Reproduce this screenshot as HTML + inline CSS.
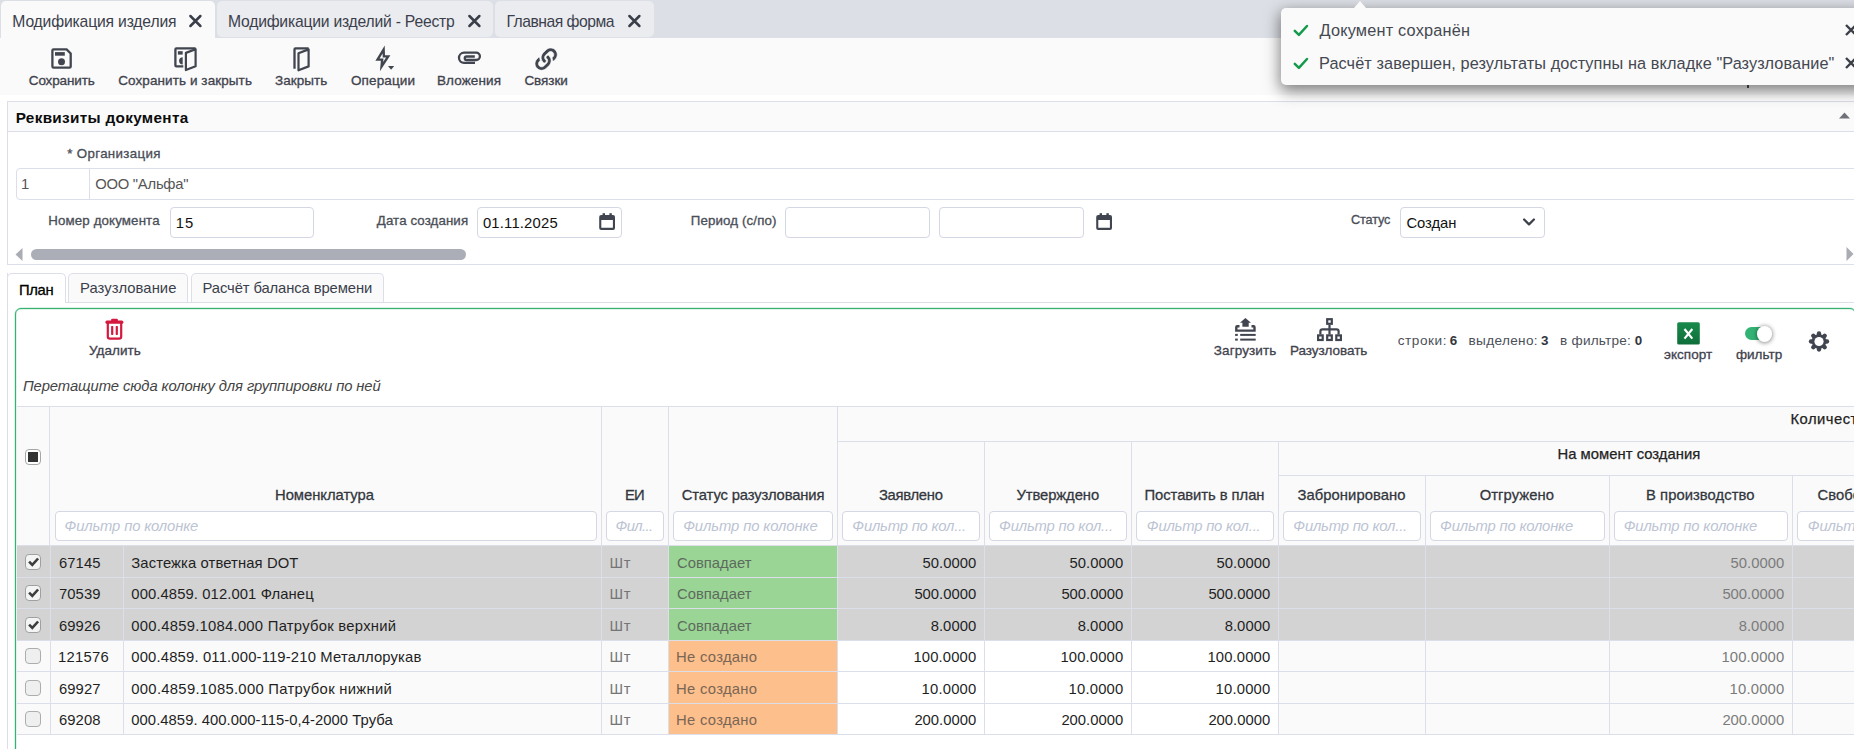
<!DOCTYPE html>
<html lang="ru"><head><meta charset="utf-8"><title>Модификация изделия</title>
<style>
html,body{margin:0;padding:0;width:1854px;height:749px;overflow:hidden;}
body{position:relative;background:#fff;font-family:"Liberation Sans", sans-serif;font-size:14.8px;}
.root{position:absolute;left:0;top:0;width:1854px;height:749px;overflow:hidden;background:#fff;}
.t{position:absolute;white-space:nowrap;line-height:1;}
svg{position:absolute;overflow:visible;}
</style></head><body><div class="root">
<div style="position:absolute;left:0px;top:0px;width:1854px;height:38px;background:#dcdfe5;"></div>
<div style="position:absolute;left:1px;top:1px;width:214px;height:37px;background:#fafafa;border-radius:5px 5px 0 0;"></div>
<div style="position:absolute;left:217px;top:1px;width:276px;height:36px;background:#ebecf0;border-radius:5px;"></div>
<div style="position:absolute;left:495px;top:1px;width:159px;height:36px;background:#ebecf0;border-radius:5px;"></div>
<div style="position:absolute;left:0px;top:38px;width:1854px;height:57px;background:#fafafa;"></div>
<div style="position:absolute;left:7px;top:101px;width:1860px;height:162px;border:1px solid #dcdeea;background:#fff;"></div>
<div style="position:absolute;left:8px;top:102px;width:1846px;height:29px;background:#fafafa;border-bottom:1px solid #dcdeea;"></div>
<svg style="position:absolute;left:1839px;top:112px" width="11" height="7"><path d="M0 6.5 L5.5 0.5 L11 6.5Z" fill="#6f7278"/></svg>
<div style="position:absolute;left:16px;top:168px;width:1850px;height:30px;border:1px solid #dcdeea;border-radius:4px 0 0 4px;background:#fff;"></div>
<div style="position:absolute;left:89px;top:169px;width:1px;height:30px;background:#dcdeea;"></div>
<div style="position:absolute;left:170px;top:207px;width:144px;height:30px;border:1px solid #d4d7e4;border-radius:4px;background:#fff;box-sizing:border-box;height:31px;"></div>
<div style="position:absolute;left:477px;top:207px;width:145px;height:30px;border:1px solid #d4d7e4;border-radius:4px;background:#fff;box-sizing:border-box;height:31px;"></div>
<div style="position:absolute;left:785px;top:207px;width:145px;height:30px;border:1px solid #d4d7e4;border-radius:4px;background:#fff;box-sizing:border-box;height:31px;"></div>
<div style="position:absolute;left:939px;top:207px;width:145px;height:30px;border:1px solid #d4d7e4;border-radius:4px;background:#fff;box-sizing:border-box;height:31px;"></div>
<div style="position:absolute;left:1400px;top:207px;width:145px;height:30px;border:1px solid #d4d7e4;border-radius:4px;background:#fff;box-sizing:border-box;height:31px;"></div>
<svg style="position:absolute;left:14.5px;top:247.5px" width="8" height="13"><path d="M7.5 0 L0.5 6.5 L7.5 13Z" fill="#a9acb3"/></svg>
<div style="position:absolute;left:31px;top:249px;width:435px;height:11px;background:#abaeb6;border-radius:6px;"></div>
<svg style="position:absolute;left:1846px;top:247px" width="8" height="14"><path d="M0.5 0 L7.5 7 L0.5 14Z" fill="#a9acb3"/></svg>
<div style="position:absolute;left:7px;top:302px;width:1860px;height:1px;background:#dcdeea;"></div>
<div style="position:absolute;left:7px;top:273px;width:1px;height:480px;background:#dcdeea;"></div>
<div style="position:absolute;left:7px;top:273px;width:59px;height:30px;border:1px solid #dcdeea;border-bottom:none;border-radius:5px 5px 0 0;background:#fff;box-sizing:border-box;"></div>
<div style="position:absolute;left:68px;top:273px;width:120px;height:29px;border:1px solid #dcdeea;border-bottom:none;border-radius:5px 5px 0 0;background:#fafafa;box-sizing:border-box;"></div>
<div style="position:absolute;left:191px;top:273px;width:193px;height:29px;border:1px solid #dcdeea;border-bottom:none;border-radius:5px 5px 0 0;background:#fafafa;box-sizing:border-box;"></div>
<div style="position:absolute;left:15px;top:308px;width:1841px;height:460px;border:1px solid #35b272;border-radius:6px;background:#fff;box-sizing:border-box;box-shadow:0 0 0 0.5px rgba(53,178,114,.35), inset 0 0 0 0.5px rgba(53,178,114,.3);"></div>
<div style="position:absolute;left:17px;top:406px;width:1840px;height:140px;background:#fafafa;border-top:1px solid #dcdeea;box-sizing:border-box;"></div>
<div style="position:absolute;left:49px;top:406px;width:1px;height:140px;background:#dcdeea;"></div>
<div style="position:absolute;left:601px;top:406px;width:1px;height:140px;background:#dcdeea;"></div>
<div style="position:absolute;left:668px;top:406px;width:1px;height:140px;background:#dcdeea;"></div>
<div style="position:absolute;left:837px;top:406px;width:1px;height:140px;background:#dcdeea;"></div>
<div style="position:absolute;left:984px;top:441px;width:1px;height:105px;background:#dcdeea;"></div>
<div style="position:absolute;left:1131px;top:441px;width:1px;height:105px;background:#dcdeea;"></div>
<div style="position:absolute;left:1278px;top:441px;width:1px;height:105px;background:#dcdeea;"></div>
<div style="position:absolute;left:1425px;top:475px;width:1px;height:71px;background:#dcdeea;"></div>
<div style="position:absolute;left:1609px;top:475px;width:1px;height:71px;background:#dcdeea;"></div>
<div style="position:absolute;left:1792px;top:475px;width:1px;height:71px;background:#dcdeea;"></div>
<div style="position:absolute;left:837px;top:441px;width:1100px;height:1px;background:#dcdeea;"></div>
<div style="position:absolute;left:1278px;top:475px;width:700px;height:1px;background:#dcdeea;"></div>
<div style="position:absolute;left:55px;top:511px;width:542px;height:30px;border:1px solid #d4d7e4;border-radius:4px;background:#fff;box-sizing:border-box;"></div>
<div style="position:absolute;left:606px;top:511px;width:58px;height:30px;border:1px solid #d4d7e4;border-radius:4px;background:#fff;box-sizing:border-box;"></div>
<div style="position:absolute;left:673px;top:511px;width:160px;height:30px;border:1px solid #d4d7e4;border-radius:4px;background:#fff;box-sizing:border-box;"></div>
<div style="position:absolute;left:842px;top:511px;width:138px;height:30px;border:1px solid #d4d7e4;border-radius:4px;background:#fff;box-sizing:border-box;"></div>
<div style="position:absolute;left:989px;top:511px;width:138px;height:30px;border:1px solid #d4d7e4;border-radius:4px;background:#fff;box-sizing:border-box;"></div>
<div style="position:absolute;left:1136px;top:511px;width:138px;height:30px;border:1px solid #d4d7e4;border-radius:4px;background:#fff;box-sizing:border-box;"></div>
<div style="position:absolute;left:1283px;top:511px;width:138px;height:30px;border:1px solid #d4d7e4;border-radius:4px;background:#fff;box-sizing:border-box;"></div>
<div style="position:absolute;left:1430px;top:511px;width:175px;height:30px;border:1px solid #d4d7e4;border-radius:4px;background:#fff;box-sizing:border-box;"></div>
<div style="position:absolute;left:1614px;top:511px;width:174px;height:30px;border:1px solid #d4d7e4;border-radius:4px;background:#fff;box-sizing:border-box;"></div>
<div style="position:absolute;left:1797px;top:511px;width:159px;height:30px;border:1px solid #d4d7e4;border-radius:4px;background:#fff;box-sizing:border-box;"></div>
<div style="position:absolute;left:17px;top:546px;width:1840px;height:32px;background:#d3d3d3;"></div>
<div style="position:absolute;left:669px;top:546px;width:168px;height:32px;background:#9ad596;"></div>
<div style="position:absolute;left:17px;top:578px;width:1840px;height:31px;background:#d3d3d3;"></div>
<div style="position:absolute;left:669px;top:578px;width:168px;height:31px;background:#9ad596;"></div>
<div style="position:absolute;left:17px;top:609px;width:1840px;height:32px;background:#d3d3d3;"></div>
<div style="position:absolute;left:669px;top:609px;width:168px;height:32px;background:#9ad596;"></div>
<div style="position:absolute;left:17px;top:641px;width:1840px;height:31px;background:#fafafa;"></div>
<div style="position:absolute;left:837px;top:641px;width:441px;height:31px;background:#fff;"></div>
<div style="position:absolute;left:669px;top:641px;width:168px;height:31px;background:#fdbf8b;"></div>
<div style="position:absolute;left:17px;top:672px;width:1840px;height:32px;background:#fafafa;"></div>
<div style="position:absolute;left:837px;top:672px;width:441px;height:32px;background:#fff;"></div>
<div style="position:absolute;left:669px;top:672px;width:168px;height:32px;background:#fdbf8b;"></div>
<div style="position:absolute;left:17px;top:704px;width:1840px;height:31px;background:#fafafa;"></div>
<div style="position:absolute;left:837px;top:704px;width:441px;height:31px;background:#fff;"></div>
<div style="position:absolute;left:669px;top:704px;width:168px;height:31px;background:#fdbf8b;"></div>
<div style="position:absolute;left:17px;top:577px;width:1840px;height:1px;background:#dcdeea;"></div>
<div style="position:absolute;left:17px;top:608px;width:1840px;height:1px;background:#dcdeea;"></div>
<div style="position:absolute;left:17px;top:640px;width:1840px;height:1px;background:#dcdeea;"></div>
<div style="position:absolute;left:17px;top:671px;width:1840px;height:1px;background:#dcdeea;"></div>
<div style="position:absolute;left:17px;top:703px;width:1840px;height:1px;background:#dcdeea;"></div>
<div style="position:absolute;left:17px;top:734px;width:1840px;height:1px;background:#dcdeea;"></div>
<div style="position:absolute;left:17px;top:545px;width:1840px;height:1px;background:#dcdeea;"></div>
<div style="position:absolute;left:50px;top:546px;width:1px;height:188px;background:#dcdeea;"></div>
<div style="position:absolute;left:123px;top:546px;width:1px;height:188px;background:#dcdeea;"></div>
<div style="position:absolute;left:601px;top:546px;width:1px;height:188px;background:#dcdeea;"></div>
<div style="position:absolute;left:668px;top:546px;width:1px;height:188px;background:#dcdeea;"></div>
<div style="position:absolute;left:837px;top:546px;width:1px;height:188px;background:#dcdeea;"></div>
<div style="position:absolute;left:984px;top:546px;width:1px;height:188px;background:#dcdeea;"></div>
<div style="position:absolute;left:1131px;top:546px;width:1px;height:188px;background:#dcdeea;"></div>
<div style="position:absolute;left:1278px;top:546px;width:1px;height:188px;background:#dcdeea;"></div>
<div style="position:absolute;left:1425px;top:546px;width:1px;height:188px;background:#dcdeea;"></div>
<div style="position:absolute;left:1609px;top:546px;width:1px;height:188px;background:#dcdeea;"></div>
<div style="position:absolute;left:1792px;top:546px;width:1px;height:188px;background:#dcdeea;"></div>
<svg width="16" height="16" style="position:absolute;left:25px;top:449px"><rect x="0.5" y="0.5" width="15" height="15" rx="3.5" fill="#fff" stroke="#a6a6a6"/><rect x="3" y="3" width="10" height="10" fill="#333"/></svg>
<svg width="16" height="16" style="position:absolute;left:25px;top:554px"><rect x="0.5" y="0.5" width="15" height="15" rx="3.5" fill="#f4f4f4" stroke="#a0a0a0"/><path d="M4.1 7.7 L7.3 10.9 L13.1 4.5" stroke="#3d3d3d" stroke-width="2.6" fill="none"/></svg>
<svg width="16" height="16" style="position:absolute;left:25px;top:585px"><rect x="0.5" y="0.5" width="15" height="15" rx="3.5" fill="#f4f4f4" stroke="#a0a0a0"/><path d="M4.1 7.7 L7.3 10.9 L13.1 4.5" stroke="#3d3d3d" stroke-width="2.6" fill="none"/></svg>
<svg width="16" height="16" style="position:absolute;left:25px;top:617px"><rect x="0.5" y="0.5" width="15" height="15" rx="3.5" fill="#f4f4f4" stroke="#a0a0a0"/><path d="M4.1 7.7 L7.3 10.9 L13.1 4.5" stroke="#3d3d3d" stroke-width="2.6" fill="none"/></svg>
<svg width="16" height="16" style="position:absolute;left:25px;top:648px"><rect x="0.5" y="0.5" width="15" height="15" rx="3.5" fill="#efefef" stroke="#adadad"/></svg>
<svg width="16" height="16" style="position:absolute;left:25px;top:680px"><rect x="0.5" y="0.5" width="15" height="15" rx="3.5" fill="#efefef" stroke="#adadad"/></svg>
<svg width="16" height="16" style="position:absolute;left:25px;top:711px"><rect x="0.5" y="0.5" width="15" height="15" rx="3.5" fill="#efefef" stroke="#adadad"/></svg>
<div style="position:absolute;left:1281px;top:8px;width:600px;height:77px;background:#fafafa;border-radius:5px;box-shadow:0 5px 15px 1px rgba(0,0,0,.5);"></div>
<svg style="position:absolute;left:1354px;top:1px" width="12" height="7"><path d="M0 7 L6 0 L12 7Z" fill="#fafafa"/></svg>
<div style="position:absolute;left:1747px;top:85px;width:2px;height:3px;background:#333;"></div>
<!-- tab close X -->
<svg style="left:189px;top:14.6px" width="13" height="12"><path d="M1.4 1 L11.4 11 M11.4 1 L1.4 11" stroke="#3a3e48" stroke-width="2.5" stroke-linecap="round" fill="none"/></svg>
<svg style="left:468px;top:14.6px" width="13" height="12"><path d="M1.4 1 L11.4 11 M11.4 1 L1.4 11" stroke="#3a3e48" stroke-width="2.5" stroke-linecap="round" fill="none"/></svg>
<svg style="left:628px;top:14.6px" width="13" height="12"><path d="M1.4 1 L11.4 11 M11.4 1 L1.4 11" stroke="#3a3e48" stroke-width="2.5" stroke-linecap="round" fill="none"/></svg>
<!-- save -->
<svg style="left:51px;top:48px" width="21" height="21"><path d="M1.4 2.6 Q1.4 1.4 2.6 1.4 H15.6 L19.7 5.5 V18.4 Q19.7 19.6 18.5 19.6 H2.6 Q1.4 19.6 1.4 18.4 Z" fill="none" stroke="#41454f" stroke-width="2.3" stroke-linejoin="round"/><rect x="4" y="4.1" width="9.8" height="3.6" fill="#41454f"/><circle cx="10.5" cy="13.8" r="3.5" fill="#41454f"/></svg>
<!-- save & close -->
<svg style="left:174px;top:47px" width="24" height="24"><path d="M9.3 19.4 H2.4 Q1.4 19.4 1.4 18.4 V2.4 Q1.4 1.4 2.4 1.4 H21.6" fill="none" stroke="#41454f" stroke-width="2.3"/><rect x="3.9" y="4.2" width="4.8" height="3.4" fill="#41454f"/><path d="M8.7 10.2 A3.6 3.6 0 0 0 8.7 17.4 Z" fill="#41454f"/><path d="M11.9 5.9 L21.6 2.2 V19.2 L11.9 23 Z" fill="#fafafa" stroke="#41454f" stroke-width="2.2" stroke-linejoin="round"/></svg>
<!-- close door -->
<svg style="left:293px;top:47px" width="18" height="24"><path d="M1.5 21.8 V2.4 Q1.5 1.4 2.5 1.4 H15.6" fill="none" stroke="#41454f" stroke-width="2.3"/><path d="M5.5 6.2 L15.6 2.4 V19.4 L5.5 23.3 Z" fill="#fafafa" stroke="#41454f" stroke-width="2.2" stroke-linejoin="round"/></svg>
<!-- bolt -->
<svg style="left:374px;top:45px" width="22" height="27"><path d="M10.7 0.6 L1.4 15.8 H6.9 L5.9 26.2 L16.4 10.2 H11 Z M8.60 8.54 L5.59 13.45 L9.49 13.45 L9.15 16.97 L12.05 12.55 L8.72 12.55 Z" fill="#41454f" fill-rule="evenodd"/><path d="M14 21 H20.2 L17.1 24.7Z" fill="#41454f"/></svg>
<!-- paperclip -->
<svg style="left:440px;top:40px" width="50" height="36"><path d="M35 22.9 H24.1 A5.1 5.1 0 0 1 24.1 12.7 H36.25 A3.65 3.65 0 0 1 36.25 20 H26.5 A1.75 1.75 0 0 1 26.5 16.5 H34.8" fill="none" stroke="#41454f" stroke-width="2.3"/></svg>
<!-- link -->
<svg style="left:534.6px;top:47.9px" width="22.3" height="22.3" viewBox="0 0 512 512"><path fill="#41454f" stroke="#fafafa" stroke-width="16" d="M326.612 185.391c59.747 59.809 58.927 155.698.36 214.59-.11.12-.24.25-.36.37l-67.2 67.2c-59.27 59.27-155.699 59.262-214.96 0-59.27-59.26-59.27-155.7 0-214.96l37.106-37.106c9.84-9.84 26.786-3.3 27.294 10.606.648 17.722 3.826 35.527 9.69 52.721 1.986 5.822.567 12.262-3.783 16.612l-13.087 13.087c-28.026 28.026-28.905 73.66-1.155 101.96 28.024 28.579 74.086 28.749 102.325.51l67.2-67.19c28.191-28.191 28.073-73.757 0-101.83-3.701-3.694-7.429-6.564-10.341-8.569a16.037 16.037 0 0 1-6.947-12.606c-.396-10.567 3.348-21.456 11.698-29.806l21.054-21.055c5.521-5.521 14.182-6.199 20.584-1.731a152.482 152.482 0 0 1 20.522 17.197zM467.547 44.449c-59.261-59.262-155.69-59.27-214.96 0l-67.2 67.2c-.12.12-.25.25-.36.37-58.566 58.892-59.387 154.781.36 214.59a152.454 152.454 0 0 0 20.521 17.196c6.402 4.468 15.064 3.789 20.584-1.731l21.054-21.055c8.35-8.35 12.094-19.239 11.698-29.806a16.037 16.037 0 0 0-6.947-12.606c-2.912-2.005-6.64-4.875-10.341-8.569-28.073-28.073-28.191-73.639 0-101.83l67.2-67.19c28.239-28.239 74.3-28.069 102.325.51 27.75 28.3 26.872 73.934-1.155 101.96l-13.087 13.087c-4.35 4.35-5.769 10.79-3.783 16.612 5.864 17.194 9.042 34.999 9.69 52.721.509 13.906 17.454 20.446 27.294 10.606l37.106-37.106c59.271-59.259 59.271-155.699.001-214.959z"/></svg>
<!-- trash -->
<svg style="left:105px;top:318px" width="20" height="23"><rect x="0.4" y="2.6" width="18" height="3.1" rx="1.5" fill="#d4183f"/><rect x="6.1" y="0.8" width="6.8" height="3" rx="1.2" fill="#d4183f"/><path d="M2.8 5 V18.6 Q2.8 20.7 4.9 20.7 H14.1 Q16.2 20.7 16.2 18.6 V5" fill="none" stroke="#d4183f" stroke-width="2.2"/><rect x="6.1" y="8.1" width="2.2" height="8.8" rx="0.6" fill="#d4183f"/><rect x="10.7" y="8.1" width="2.2" height="8.8" rx="0.6" fill="#d4183f"/></svg>
<!-- upload -->
<svg style="left:1235px;top:317px" width="22" height="25"><path d="M10.4 0.9 L16 5.8 H13.7 V9.8 H7.4 V5.8 H5 Z" fill="#41454f"/><path d="M4.5 9.3 H2.2 Q1.3 9.3 1.3 10.2 V13.6 H19.5 V10.2 Q19.5 9.3 18.6 9.3 H16.5" fill="none" stroke="#41454f" stroke-width="2.4"/><rect x="0.1" y="16.9" width="2.7" height="2" fill="#41454f"/><rect x="5.2" y="16.9" width="15.5" height="2" fill="#41454f"/><rect x="0.1" y="21.6" width="2.7" height="2" fill="#41454f"/><rect x="5.2" y="21.6" width="15.5" height="2" fill="#41454f"/></svg>
<!-- tree -->
<svg style="left:1317px;top:318px" width="26" height="24"><g fill="none" stroke="#41454f" stroke-width="2.2"><rect x="10.2" y="1.2" width="4.6" height="4.6"/><rect x="1.1" y="17.4" width="4.6" height="4.6"/><rect x="10.2" y="17.4" width="4.6" height="4.6"/><rect x="19.3" y="17.4" width="4.6" height="4.6"/><path d="M12.5 6.8 V16.4 M3.4 16.4 V13.3 Q3.4 11.3 5.4 11.3 H19.6 Q21.6 11.3 21.6 13.3 V16.4"/></g></svg>
<!-- excel -->
<svg style="left:1677px;top:322px" width="23" height="23"><defs><linearGradient id="xg" x1="0" y1="0" x2="0" y2="1"><stop offset="0" stop-color="#188a4b"/><stop offset="1" stop-color="#0f6e3a"/></linearGradient></defs><rect x="0.2" y="0.2" width="22.6" height="22.4" rx="1.6" fill="url(#xg)"/><path d="M7.5 7 L15.3 16.6 M15.3 7 L7.5 16.6" stroke="#fff" stroke-width="2.2"/></svg>
<!-- toggle -->
<div style="position:absolute;left:1745px;top:327px;width:26px;height:13px;border-radius:7px;background:#33b373;"></div>
<div style="position:absolute;left:1756.6px;top:325.8px;width:15.8px;height:15.8px;border-radius:50%;background:#fff;box-shadow:0 0.5px 4px 0.5px rgba(0,0,0,.45);"></div>
<!-- gear -->
<svg style="left:1807.9px;top:330.9px" width="22" height="21" viewBox="-11 -10.5 22 21"><g fill="#41454f"><rect x="-2.2" y="-10.2" width="4.4" height="20.4" rx="2.1"/><rect x="-2.2" y="-10.2" width="4.4" height="20.4" rx="2.1" transform="rotate(45)"/><rect x="-2.2" y="-10.2" width="4.4" height="20.4" rx="2.1" transform="rotate(90)"/><rect x="-2.2" y="-10.2" width="4.4" height="20.4" rx="2.1" transform="rotate(135)"/><circle r="7.3"/></g><circle r="4.6" fill="#fff"/></svg>
<!-- calendars -->
<svg style="left:599px;top:213px" width="17" height="18"><path d="M2.2 2 H14 Q16 2 16 4 V14.9 Q16 16.9 14 16.9 H2.2 Q0.2 16.9 0.2 14.9 V4 Q0.2 2 2.2 2Z M2.3 7 V14.8 H13.9 V7Z" fill="#41454f" fill-rule="evenodd"/><rect x="3.6" y="0.2" width="2.4" height="3" fill="#41454f"/><rect x="10.4" y="0.2" width="2.4" height="3" fill="#41454f"/></svg>
<svg style="left:1096px;top:213px" width="17" height="18"><path d="M2.2 2 H14 Q16 2 16 4 V14.9 Q16 16.9 14 16.9 H2.2 Q0.2 16.9 0.2 14.9 V4 Q0.2 2 2.2 2Z M2.3 7 V14.8 H13.9 V7Z" fill="#41454f" fill-rule="evenodd"/><rect x="3.6" y="0.2" width="2.4" height="3" fill="#41454f"/><rect x="10.4" y="0.2" width="2.4" height="3" fill="#41454f"/></svg>
<!-- select chevron -->
<svg style="left:1522px;top:218px" width="14" height="9"><path d="M2.1 1.5 L7 6.4 L11.9 1.5" fill="none" stroke="#3d414b" stroke-width="2.3" stroke-linecap="round" stroke-linejoin="round"/></svg>
<!-- notification checks -->
<svg style="left:1293px;top:24px" width="16" height="13"><path d="M1.8 6.9 L5.9 10.9 L14 2" fill="none" stroke="#149a4c" stroke-width="2.5" stroke-linecap="round" stroke-linejoin="round"/></svg>
<svg style="left:1293px;top:57px" width="16" height="13"><path d="M1.8 6.9 L5.9 10.9 L14 2" fill="none" stroke="#149a4c" stroke-width="2.5" stroke-linecap="round" stroke-linejoin="round"/></svg>
<!-- notification close -->
<svg style="left:1845px;top:24px" width="12" height="12"><path d="M1 1 L11 11 M11 1 L1 11" stroke="#3d4048" stroke-width="2.4"/></svg>
<svg style="left:1845px;top:57px" width="12" height="12"><path d="M1 1 L11 11 M11 1 L1 11" stroke="#3d4048" stroke-width="2.4"/></svg>


<span class="t" style="left:12.30px;top:13.91px;font-size:15.7px;font-weight:400;font-style:normal;color:#3b3f4c;letter-spacing:-0.163px;">Модификация изделия</span>
<span class="t" style="left:228.00px;top:13.91px;font-size:15.7px;font-weight:400;font-style:normal;color:#3b3f4c;letter-spacing:-0.217px;">Модификации изделий - Реестр</span>
<span class="t" style="left:506.40px;top:13.91px;font-size:15.7px;font-weight:400;font-style:normal;color:#3b3f4c;letter-spacing:-0.484px;">Главная форма</span>
<span class="t" style="left:28.80px;top:73.77px;font-size:13.5px;font-weight:400;font-style:normal;color:#3f434d;letter-spacing:-0.144px;-webkit-text-stroke:0.32px;">Сохранить</span>
<span class="t" style="left:118.20px;top:73.77px;font-size:13.5px;font-weight:400;font-style:normal;color:#3f434d;letter-spacing:0.087px;-webkit-text-stroke:0.32px;">Сохранить и закрыть</span>
<span class="t" style="left:275.00px;top:73.77px;font-size:13.5px;font-weight:400;font-style:normal;color:#3f434d;letter-spacing:0.056px;-webkit-text-stroke:0.32px;">Закрыть</span>
<span class="t" style="left:351.00px;top:73.77px;font-size:13.5px;font-weight:400;font-style:normal;color:#3f434d;letter-spacing:0.113px;-webkit-text-stroke:0.32px;">Операции</span>
<span class="t" style="left:436.90px;top:73.77px;font-size:13.5px;font-weight:400;font-style:normal;color:#3f434d;letter-spacing:0.125px;-webkit-text-stroke:0.32px;">Вложения</span>
<span class="t" style="left:524.40px;top:73.77px;font-size:13.5px;font-weight:400;font-style:normal;color:#3f434d;letter-spacing:-0.055px;-webkit-text-stroke:0.32px;">Связки</span>
<span class="t" style="left:15.70px;top:110.15px;font-size:15.3px;font-weight:700;font-style:normal;color:#0c0c0c;letter-spacing:0.324px;">Реквизиты документа</span>
<span class="t" style="left:67.30px;top:147.44px;font-size:13.3px;font-weight:400;font-style:normal;color:#4a4e57;letter-spacing:0.336px;-webkit-text-stroke:0.32px;">* Организация</span>
<span class="t" style="left:21.10px;top:177.17px;font-size:14.8px;font-weight:400;font-style:normal;color:#555;letter-spacing:0.000px;">1</span>
<span class="t" style="left:95.20px;top:177.17px;font-size:14.8px;font-weight:400;font-style:normal;color:#555;letter-spacing:-0.241px;">ООО "Альфа"</span>
<span class="t" style="left:48.30px;top:213.94px;font-size:13.3px;font-weight:400;font-style:normal;color:#4a4e57;letter-spacing:0.131px;-webkit-text-stroke:0.32px;">Номер документа</span>
<span class="t" style="left:175.84px;top:215.97px;font-size:14.8px;font-weight:400;font-style:normal;color:#111;letter-spacing:0.900px;">15</span>
<span class="t" style="left:376.80px;top:213.94px;font-size:13.3px;font-weight:400;font-style:normal;color:#4a4e57;letter-spacing:0.099px;-webkit-text-stroke:0.32px;">Дата создания</span>
<span class="t" style="left:482.90px;top:215.97px;font-size:14.8px;font-weight:400;font-style:normal;color:#111;letter-spacing:0.197px;">01.11.2025</span>
<span class="t" style="left:690.70px;top:213.94px;font-size:13.3px;font-weight:400;font-style:normal;color:#4a4e57;letter-spacing:0.134px;-webkit-text-stroke:0.32px;">Период (с/по)</span>
<span class="t" style="left:1351.10px;top:214.45px;font-size:12.7px;font-weight:400;font-style:normal;color:#4a4e57;letter-spacing:-0.153px;-webkit-text-stroke:0.32px;">Статус</span>
<span class="t" style="left:1406.40px;top:215.57px;font-size:14.8px;font-weight:400;font-style:normal;color:#111;letter-spacing:-0.054px;">Создан</span>
<span class="t" style="left:19.10px;top:282.67px;font-size:14.8px;font-weight:400;font-style:normal;color:#000;letter-spacing:-0.400px;-webkit-text-stroke:0.3px #000;">План</span>
<span class="t" style="left:80.00px;top:281.17px;font-size:14.8px;font-weight:400;font-style:normal;color:#3b3f4c;letter-spacing:0.067px;">Разузлование</span>
<span class="t" style="left:202.50px;top:281.17px;font-size:14.8px;font-weight:400;font-style:normal;color:#3b3f4c;letter-spacing:-0.105px;">Расчёт баланса времени</span>
<span class="t" style="left:89.00px;top:344.27px;font-size:13.5px;font-weight:400;font-style:normal;color:#3f434d;letter-spacing:0.049px;-webkit-text-stroke:0.32px;">Удалить</span>
<span class="t" style="left:1213.80px;top:343.77px;font-size:13.5px;font-weight:400;font-style:normal;color:#3f434d;letter-spacing:0.099px;-webkit-text-stroke:0.32px;">Загрузить</span>
<span class="t" style="left:1289.90px;top:343.77px;font-size:13.5px;font-weight:400;font-style:normal;color:#3f434d;letter-spacing:-0.029px;-webkit-text-stroke:0.32px;">Разузловать</span>
<span class="t" style="left:1664.00px;top:347.77px;font-size:13.5px;font-weight:400;font-style:normal;color:#3f434d;letter-spacing:0.046px;-webkit-text-stroke:0.32px;">экспорт</span>
<span class="t" style="left:1735.90px;top:347.77px;font-size:13.5px;font-weight:400;font-style:normal;color:#3f434d;letter-spacing:0.023px;-webkit-text-stroke:0.32px;">фильтр</span>
<span class="t" style="left:23.00px;top:379.37px;font-size:14.8px;font-weight:400;font-style:italic;color:#444;letter-spacing:-0.103px;">Перетащите сюда колонку для группировки по ней</span>
<span class="t" style="left:1319.50px;top:21.60px;font-size:16.3px;font-weight:400;font-style:normal;color:#444851;letter-spacing:0.204px;">Документ сохранён</span>
<span class="t" style="left:1319.00px;top:54.60px;font-size:16.3px;font-weight:400;font-style:normal;color:#444851;letter-spacing:0.086px;">Расчёт завершен, результаты доступны на вкладке "Разузлование"</span>
<span class="t" style="left:275.00px;top:487.67px;font-size:14.8px;font-weight:400;font-style:normal;color:#33363d;letter-spacing:-0.034px;-webkit-text-stroke:0.28px;">Номенклатура</span>
<span class="t" style="left:624.97px;top:487.67px;font-size:14.8px;font-weight:400;font-style:normal;color:#33363d;letter-spacing:-0.900px;-webkit-text-stroke:0.28px;">ЕИ</span>
<span class="t" style="left:681.80px;top:487.67px;font-size:14.8px;font-weight:400;font-style:normal;color:#33363d;letter-spacing:-0.139px;-webkit-text-stroke:0.28px;">Статус разузлования</span>
<span class="t" style="left:878.90px;top:487.67px;font-size:14.8px;font-weight:400;font-style:normal;color:#33363d;letter-spacing:-0.276px;-webkit-text-stroke:0.28px;">Заявлено</span>
<span class="t" style="left:1016.40px;top:487.67px;font-size:14.8px;font-weight:400;font-style:normal;color:#33363d;letter-spacing:-0.085px;-webkit-text-stroke:0.28px;">Утверждено</span>
<span class="t" style="left:1144.50px;top:487.67px;font-size:14.8px;font-weight:400;font-style:normal;color:#33363d;letter-spacing:-0.058px;-webkit-text-stroke:0.28px;">Поставить в план</span>
<span class="t" style="left:1297.50px;top:487.67px;font-size:14.8px;font-weight:400;font-style:normal;color:#33363d;letter-spacing:0.051px;-webkit-text-stroke:0.28px;">Забронировано</span>
<span class="t" style="left:1479.70px;top:487.67px;font-size:14.8px;font-weight:400;font-style:normal;color:#33363d;letter-spacing:0.061px;-webkit-text-stroke:0.28px;">Отгружено</span>
<span class="t" style="left:1646.00px;top:487.67px;font-size:14.8px;font-weight:400;font-style:normal;color:#33363d;letter-spacing:0.046px;-webkit-text-stroke:0.28px;">В производство</span>
<span class="t" style="left:1817.60px;top:487.67px;font-size:14.8px;font-weight:400;font-style:normal;color:#33363d;letter-spacing:0.001px;-webkit-text-stroke:0.28px;">Свободный остаток</span>
<span class="t" style="left:1557.50px;top:446.87px;font-size:14.8px;font-weight:400;font-style:normal;color:#222;letter-spacing:0.025px;-webkit-text-stroke:0.25px #222;">На момент создания</span>
<span class="t" style="left:1790.50px;top:412.37px;font-size:14.8px;font-weight:400;font-style:normal;color:#222;letter-spacing:0.474px;-webkit-text-stroke:0.25px #222;">Количество</span>
<span class="t" style="left:64.50px;top:519.17px;font-size:14.8px;font-weight:400;font-style:italic;color:#bcc4d3;letter-spacing:-0.137px;">Фильтр по колонке</span>
<span class="t" style="left:615.60px;top:519.17px;font-size:14.8px;font-weight:400;font-style:italic;color:#bcc4d3;letter-spacing:-0.632px;">Фил...</span>
<span class="t" style="left:683.20px;top:519.17px;font-size:14.8px;font-weight:400;font-style:italic;color:#bcc4d3;letter-spacing:-0.093px;">Фильтр по колонке</span>
<span class="t" style="left:852.30px;top:519.17px;font-size:14.8px;font-weight:400;font-style:italic;color:#bcc4d3;letter-spacing:-0.184px;">Фильтр по кол...</span>
<span class="t" style="left:999.10px;top:519.17px;font-size:14.8px;font-weight:400;font-style:italic;color:#bcc4d3;letter-spacing:-0.184px;">Фильтр по кол...</span>
<span class="t" style="left:1146.80px;top:519.17px;font-size:14.8px;font-weight:400;font-style:italic;color:#bcc4d3;letter-spacing:-0.184px;">Фильтр по кол...</span>
<span class="t" style="left:1293.30px;top:519.17px;font-size:14.8px;font-weight:400;font-style:italic;color:#bcc4d3;letter-spacing:-0.184px;">Фильтр по кол...</span>
<span class="t" style="left:1440.10px;top:519.17px;font-size:14.8px;font-weight:400;font-style:italic;color:#bcc4d3;letter-spacing:-0.181px;">Фильтр по колонке</span>
<span class="t" style="left:1623.70px;top:519.17px;font-size:14.8px;font-weight:400;font-style:italic;color:#bcc4d3;letter-spacing:-0.150px;">Фильтр по колонке</span>
<span class="t" style="left:1807.80px;top:519.17px;font-size:14.8px;font-weight:400;font-style:italic;color:#bcc4d3;letter-spacing:-0.156px;">Фильтр по колонке</span>
<span class="t" style="left:59.00px;top:555.77px;font-size:14.8px;font-weight:400;font-style:normal;color:#1f1f1f;letter-spacing:0.071px;">67145</span>
<span class="t" style="left:131.30px;top:555.77px;font-size:14.8px;font-weight:400;font-style:normal;color:#1f1f1f;letter-spacing:0.106px;">Застежка ответная DOT</span>
<span class="t" style="left:609.42px;top:555.77px;font-size:14.8px;font-weight:400;font-style:normal;color:#757575;letter-spacing:0.900px;">Шт</span>
<span class="t" style="left:677.10px;top:555.77px;font-size:14.8px;font-weight:400;font-style:normal;color:#5d6b5c;letter-spacing:-0.002px;">Совпадает</span>
<span class="t" style="left:922.52px;top:555.77px;font-size:14.8px;font-weight:400;font-style:normal;color:#1f1f1f;letter-spacing:0.037px;">50.0000</span>
<span class="t" style="left:1069.52px;top:555.77px;font-size:14.8px;font-weight:400;font-style:normal;color:#1f1f1f;letter-spacing:0.037px;">50.0000</span>
<span class="t" style="left:1216.52px;top:555.77px;font-size:14.8px;font-weight:400;font-style:normal;color:#1f1f1f;letter-spacing:0.037px;">50.0000</span>
<span class="t" style="left:1730.52px;top:555.77px;font-size:14.8px;font-weight:400;font-style:normal;color:#7b7b7b;letter-spacing:0.037px;">50.0000</span>
<span class="t" style="left:59.00px;top:587.17px;font-size:14.8px;font-weight:400;font-style:normal;color:#1f1f1f;letter-spacing:0.071px;">70539</span>
<span class="t" style="left:131.30px;top:587.17px;font-size:14.8px;font-weight:400;font-style:normal;color:#1f1f1f;letter-spacing:0.102px;">000.4859. 012.001 Фланец</span>
<span class="t" style="left:609.42px;top:587.17px;font-size:14.8px;font-weight:400;font-style:normal;color:#757575;letter-spacing:0.900px;">Шт</span>
<span class="t" style="left:677.10px;top:587.17px;font-size:14.8px;font-weight:400;font-style:normal;color:#5d6b5c;letter-spacing:-0.002px;">Совпадает</span>
<span class="t" style="left:914.39px;top:587.17px;font-size:14.8px;font-weight:400;font-style:normal;color:#1f1f1f;letter-spacing:0.018px;">500.0000</span>
<span class="t" style="left:1061.39px;top:587.17px;font-size:14.8px;font-weight:400;font-style:normal;color:#1f1f1f;letter-spacing:0.018px;">500.0000</span>
<span class="t" style="left:1208.39px;top:587.17px;font-size:14.8px;font-weight:400;font-style:normal;color:#1f1f1f;letter-spacing:0.018px;">500.0000</span>
<span class="t" style="left:1722.39px;top:587.17px;font-size:14.8px;font-weight:400;font-style:normal;color:#7b7b7b;letter-spacing:0.018px;">500.0000</span>
<span class="t" style="left:59.00px;top:618.77px;font-size:14.8px;font-weight:400;font-style:normal;color:#1f1f1f;letter-spacing:0.071px;">69926</span>
<span class="t" style="left:131.30px;top:618.77px;font-size:14.8px;font-weight:400;font-style:normal;color:#1f1f1f;letter-spacing:0.266px;">000.4859.1084.000 Патрубок верхний</span>
<span class="t" style="left:609.42px;top:618.77px;font-size:14.8px;font-weight:400;font-style:normal;color:#757575;letter-spacing:0.900px;">Шт</span>
<span class="t" style="left:677.10px;top:618.77px;font-size:14.8px;font-weight:400;font-style:normal;color:#5d6b5c;letter-spacing:-0.002px;">Совпадает</span>
<span class="t" style="left:930.65px;top:618.77px;font-size:14.8px;font-weight:400;font-style:normal;color:#1f1f1f;letter-spacing:0.064px;">8.0000</span>
<span class="t" style="left:1077.65px;top:618.77px;font-size:14.8px;font-weight:400;font-style:normal;color:#1f1f1f;letter-spacing:0.064px;">8.0000</span>
<span class="t" style="left:1224.65px;top:618.77px;font-size:14.8px;font-weight:400;font-style:normal;color:#1f1f1f;letter-spacing:0.064px;">8.0000</span>
<span class="t" style="left:1738.65px;top:618.77px;font-size:14.8px;font-weight:400;font-style:normal;color:#7b7b7b;letter-spacing:0.064px;">8.0000</span>
<span class="t" style="left:58.00px;top:650.07px;font-size:14.8px;font-weight:400;font-style:normal;color:#1f1f1f;letter-spacing:0.259px;">121576</span>
<span class="t" style="left:131.30px;top:650.07px;font-size:14.8px;font-weight:400;font-style:normal;color:#1f1f1f;letter-spacing:0.173px;">000.4859. 011.000-119-210 Металлорукав</span>
<span class="t" style="left:609.42px;top:650.07px;font-size:14.8px;font-weight:400;font-style:normal;color:#757575;letter-spacing:0.900px;">Шт</span>
<span class="t" style="left:676.10px;top:650.07px;font-size:14.8px;font-weight:400;font-style:normal;color:#7a6656;letter-spacing:0.284px;">Не создано</span>
<span class="t" style="left:913.39px;top:650.07px;font-size:14.8px;font-weight:400;font-style:normal;color:#1f1f1f;letter-spacing:0.160px;">100.0000</span>
<span class="t" style="left:1060.39px;top:650.07px;font-size:14.8px;font-weight:400;font-style:normal;color:#1f1f1f;letter-spacing:0.160px;">100.0000</span>
<span class="t" style="left:1207.39px;top:650.07px;font-size:14.8px;font-weight:400;font-style:normal;color:#1f1f1f;letter-spacing:0.160px;">100.0000</span>
<span class="t" style="left:1721.39px;top:650.07px;font-size:14.8px;font-weight:400;font-style:normal;color:#7b7b7b;letter-spacing:0.160px;">100.0000</span>
<span class="t" style="left:59.00px;top:681.57px;font-size:14.8px;font-weight:400;font-style:normal;color:#1f1f1f;letter-spacing:0.071px;">69927</span>
<span class="t" style="left:131.30px;top:681.57px;font-size:14.8px;font-weight:400;font-style:normal;color:#1f1f1f;letter-spacing:0.301px;">000.4859.1085.000 Патрубок нижний</span>
<span class="t" style="left:609.42px;top:681.57px;font-size:14.8px;font-weight:400;font-style:normal;color:#757575;letter-spacing:0.900px;">Шт</span>
<span class="t" style="left:676.10px;top:681.57px;font-size:14.8px;font-weight:400;font-style:normal;color:#7a6656;letter-spacing:0.284px;">Не создано</span>
<span class="t" style="left:921.52px;top:681.57px;font-size:14.8px;font-weight:400;font-style:normal;color:#1f1f1f;letter-spacing:0.204px;">10.0000</span>
<span class="t" style="left:1068.52px;top:681.57px;font-size:14.8px;font-weight:400;font-style:normal;color:#1f1f1f;letter-spacing:0.204px;">10.0000</span>
<span class="t" style="left:1215.52px;top:681.57px;font-size:14.8px;font-weight:400;font-style:normal;color:#1f1f1f;letter-spacing:0.204px;">10.0000</span>
<span class="t" style="left:1729.52px;top:681.57px;font-size:14.8px;font-weight:400;font-style:normal;color:#7b7b7b;letter-spacing:0.204px;">10.0000</span>
<span class="t" style="left:59.00px;top:713.07px;font-size:14.8px;font-weight:400;font-style:normal;color:#1f1f1f;letter-spacing:0.071px;">69208</span>
<span class="t" style="left:131.30px;top:713.07px;font-size:14.8px;font-weight:400;font-style:normal;color:#1f1f1f;letter-spacing:0.052px;">000.4859. 400.000-115-0,4-2000 Труба</span>
<span class="t" style="left:609.42px;top:713.07px;font-size:14.8px;font-weight:400;font-style:normal;color:#757575;letter-spacing:0.900px;">Шт</span>
<span class="t" style="left:676.10px;top:713.07px;font-size:14.8px;font-weight:400;font-style:normal;color:#7a6656;letter-spacing:0.284px;">Не создано</span>
<span class="t" style="left:914.39px;top:713.07px;font-size:14.8px;font-weight:400;font-style:normal;color:#1f1f1f;letter-spacing:0.018px;">200.0000</span>
<span class="t" style="left:1061.39px;top:713.07px;font-size:14.8px;font-weight:400;font-style:normal;color:#1f1f1f;letter-spacing:0.018px;">200.0000</span>
<span class="t" style="left:1208.39px;top:713.07px;font-size:14.8px;font-weight:400;font-style:normal;color:#1f1f1f;letter-spacing:0.018px;">200.0000</span>
<span class="t" style="left:1722.39px;top:713.07px;font-size:14.8px;font-weight:400;font-style:normal;color:#7b7b7b;letter-spacing:0.018px;">200.0000</span>
<span class="t" style="left:1397.70px;top:334.29px;font-size:13.6px;font-weight:400;font-style:normal;color:#4c5059;letter-spacing:0.553px;">строки:</span>
<span class="t" style="left:1449.80px;top:334.46px;font-size:13.4px;font-weight:700;font-style:normal;color:#33363d;letter-spacing:0.000px;">6</span>
<span class="t" style="left:1468.50px;top:334.29px;font-size:13.6px;font-weight:400;font-style:normal;color:#4c5059;letter-spacing:0.338px;">выделено:</span>
<span class="t" style="left:1540.95px;top:334.46px;font-size:13.4px;font-weight:700;font-style:normal;color:#33363d;letter-spacing:0.000px;">3</span>
<span class="t" style="left:1560.10px;top:334.29px;font-size:13.6px;font-weight:400;font-style:normal;color:#4c5059;letter-spacing:0.214px;">в фильтре:</span>
<span class="t" style="left:1634.75px;top:334.46px;font-size:13.4px;font-weight:700;font-style:normal;color:#33363d;letter-spacing:0.000px;">0</span>
</div></body></html>
